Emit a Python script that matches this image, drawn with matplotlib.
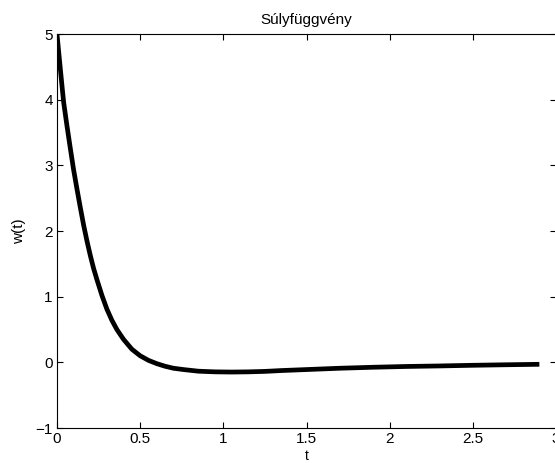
import matplotlib
matplotlib.use("Agg")
import matplotlib.pyplot as plt

# values
t = [0.0, 0.01, 0.02, 0.03, 0.04, 0.06, 0.08, 0.10, 0.12, 0.14, 0.16, 0.18,
     0.20, 0.22, 0.24, 0.27, 0.30, 0.33, 0.36, 0.40, 0.45, 0.50, 0.55, 0.60,
     0.65, 0.70, 0.76, 0.85, 0.95, 1.05, 1.15, 1.25, 1.35, 1.50, 1.70, 1.90,
     2.10, 2.30, 2.50, 2.70, 2.90]
w = [5.00, 4.73, 4.47, 4.21, 3.96, 3.60, 3.26, 2.93, 2.64, 2.36, 2.09, 1.85,
     1.63, 1.43, 1.26, 1.02, 0.81, 0.64, 0.50, 0.35, 0.20, 0.10, 0.03, -0.02,
     -0.06, -0.09, -0.11, -0.135, -0.145, -0.148, -0.145, -0.138, -0.125,
     -0.11, -0.09, -0.075, -0.063, -0.055, -0.045, -0.037, -0.03]

x_ticks = [0, 0.5, 1, 1.5, 2, 2.5, 3]
x_labels = ["0", "0.5", "1", "1.5", "2", "2.5", "3"]
y_ticks = [-1, 0, 1, 2, 3, 4, 5]
y_labels = ["\u22121", "0", "1", "2", "3", "4", "5"]

plt.rcParams["font.family"] = ["Liberation Sans", "DejaVu Sans"]

fig = plt.figure(figsize=(5.55, 4.63), dpi=100)
ax = fig.add_axes([57 / 555, 35 / 463, (556 - 57) / 555, (428 - 34) / 463])

ax.plot(t, w, color="black", linewidth=3.4, solid_capstyle="butt",
        solid_joinstyle="round")

ax.set_xlim(0, 3)
ax.set_ylim(-1, 5)
ax.set_xticks(x_ticks)
ax.set_xticklabels(x_labels)
ax.set_yticks(y_ticks)
ax.set_yticklabels(y_labels)
ax.tick_params(direction="in", top=True, right=True, length=4, width=0.8,
               labelsize=11, pad=3)
for s in ax.spines.values():
    s.set_linewidth(0.8)

ax.set_title("Súlyfüggvény", fontsize=11, pad=7)
ax.set_xlabel("t", fontsize=10, labelpad=2)
ax.set_ylabel("w(t)", fontsize=11)
ax.yaxis.set_label_coords(-0.062, 0.5)

fig.savefig("out.png", dpi=100)
